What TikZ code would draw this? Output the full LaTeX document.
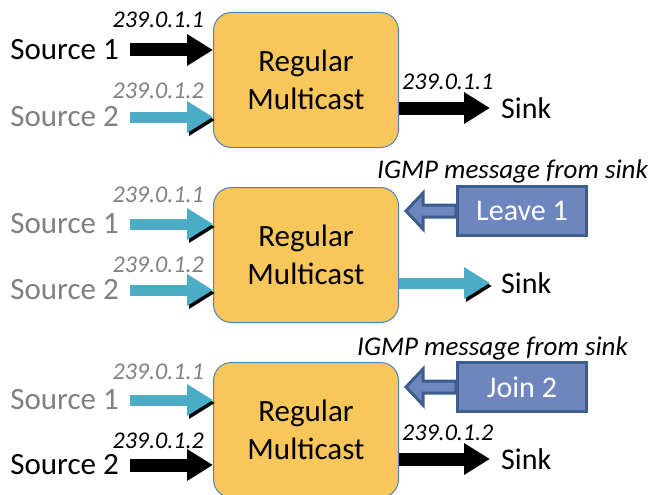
\documentclass[tikz,border=0pt]{standalone}
\usepackage{fontspec}
\setmainfont{Carlito}
\usetikzlibrary{arrows.meta}
\definecolor{mcfill}{RGB}{248,199,92}
\definecolor{mcedge}{RGB}{79,129,189}
\definecolor{mcteal}{RGB}{75,172,198}
\definecolor{mcgray}{RGB}{128,128,128}
\definecolor{msgfill}{RGB}{111,133,189}
\definecolor{msgedge}{RGB}{61,94,140}
\tikzset{
  mcast/.style  = {draw=mcedge, fill=mcfill, line width=1pt, rounded corners=18pt, align=center,
                   minimum width=185pt, minimum height=135pt, font=\fontsize{31}{38}\selectfont},
  src/.style    = {anchor=east, inner sep=0pt, font=\fontsize{31}{36}\selectfont},
  addr/.style   = {anchor=base east, inner sep=0pt, font=\fontsize{24}{28}\selectfont\itshape},
  outaddr/.style = {addr, anchor=base west},
  sinknode/.style = {anchor=west, inner sep=0pt, font=\fontsize{30}{35}\selectfont},
  igmp/.style   = {anchor=base west, inner sep=0pt, font=\fontsize{27}{32}\selectfont\itshape},
  msg/.style    = {draw=msgedge, fill=msgfill, line width=3pt, minimum width=129pt,
                   minimum height=49pt, text=white, font=\fontsize{30}{36}\selectfont},
  faded/.style  = {text=mcgray},
  blkarrow/.style  = {-{Triangle[width=30pt,length=26pt]}, line width=13pt},
  tealarrow/.style = {blkarrow, line width=11pt, draw=mcteal,
                      preaction={draw=black, transform canvas={shift={(2,3)}}}},
  msgarrow/.style  = {draw=msgedge, fill=msgfill, line width=3pt, line join=miter},
}
\begin{document}
\begin{tikzpicture}[x=1pt, y=-1pt]
  \useasboundingbox (0,0) rectangle (656,495);

  \node[mcast] (m1) at (306,80) {Regular\\Multicast};
  \node[src] (s11) at (119,50) {Source 1};
  \node[src, faded] (s12) at (119,117) {Source 2};
  \node[addr] (a11) at (204,28) {239.0.1.1};
  \node[addr, faded] (a12) at (204,99) {239.0.1.2};
  \node[outaddr] (o1) at (402,89) {239.0.1.1};
  \node[sinknode] (k1) at (501,108) {Sink};
  \draw[blkarrow] ([xshift=11pt]s11.east) -- (s11.east -| m1.west);
  \draw[tealarrow] ([xshift=11pt]s12.east) -- (s12.east -| m1.west);
  \draw[blkarrow] (m1.east |- k1.west) -- ([xshift=-11pt]k1.west);

  \node[mcast] (m2) at (306,255) {Regular\\Multicast};
  \node[src, faded] (s21) at (119,224) {Source 1};
  \node[src, faded] (s22) at (119,290) {Source 2};
  \node[addr, faded] (a21) at (204,202) {239.0.1.1};
  \node[addr, faded] (a22) at (204,272) {239.0.1.2};
  \node[sinknode] (k2) at (501,283) {Sink};
  \node[igmp] (i2) at (377,178) {IGMP message from sink};
  \node[msg] (lv) at (522,211) {Leave 1};
  \coordinate (t2) at (406,211);
  \draw[tealarrow] ([xshift=11pt]s21.east) -- (s21.east -| m2.west);
  \draw[tealarrow] ([xshift=11pt]s22.east) -- (s22.east -| m2.west);
  \draw[tealarrow] (m2.east |- k2.west) -- ([xshift=-11pt]k2.west);
  \draw[msgarrow] (t2) -- ++(17,-18) -- ++(0,12) -- ([yshift=6pt]lv.west)
    -- ([yshift=-6pt]lv.west) -- ([xshift=17pt,yshift=-6pt]t2) -- ++(0,12) -- cycle;

  \node[mcast] (m3) at (306,430) {Regular\\Multicast};
  \node[src, faded] (s31) at (119,400) {Source 1};
  \node[src] (s32) at (119,465) {Source 2};
  \node[addr, faded] (a31) at (204,379) {239.0.1.1};
  \node[addr] (a32) at (204,448) {239.0.1.2};
  \node[outaddr] (o3) at (402,440) {239.0.1.2};
  \node[sinknode] (k3) at (501,459) {Sink};
  \node[igmp] (i3) at (357,355) {IGMP message from sink};
  \node[msg] (jn) at (522,387) {Join 2};
  \coordinate (t3) at (406,387);
  \draw[tealarrow] ([xshift=11pt]s31.east) -- (s31.east -| m3.west);
  \draw[blkarrow] ([xshift=11pt]s32.east) -- (s32.east -| m3.west);
  \draw[blkarrow] (m3.east |- k3.west) -- ([xshift=-11pt]k3.west);
  \draw[msgarrow] (t3) -- ++(17,-18) -- ++(0,12) -- ([yshift=6pt]jn.west)
    -- ([yshift=-6pt]jn.west) -- ([xshift=17pt,yshift=-6pt]t3) -- ++(0,12) -- cycle;
\end{tikzpicture}
\end{document}
